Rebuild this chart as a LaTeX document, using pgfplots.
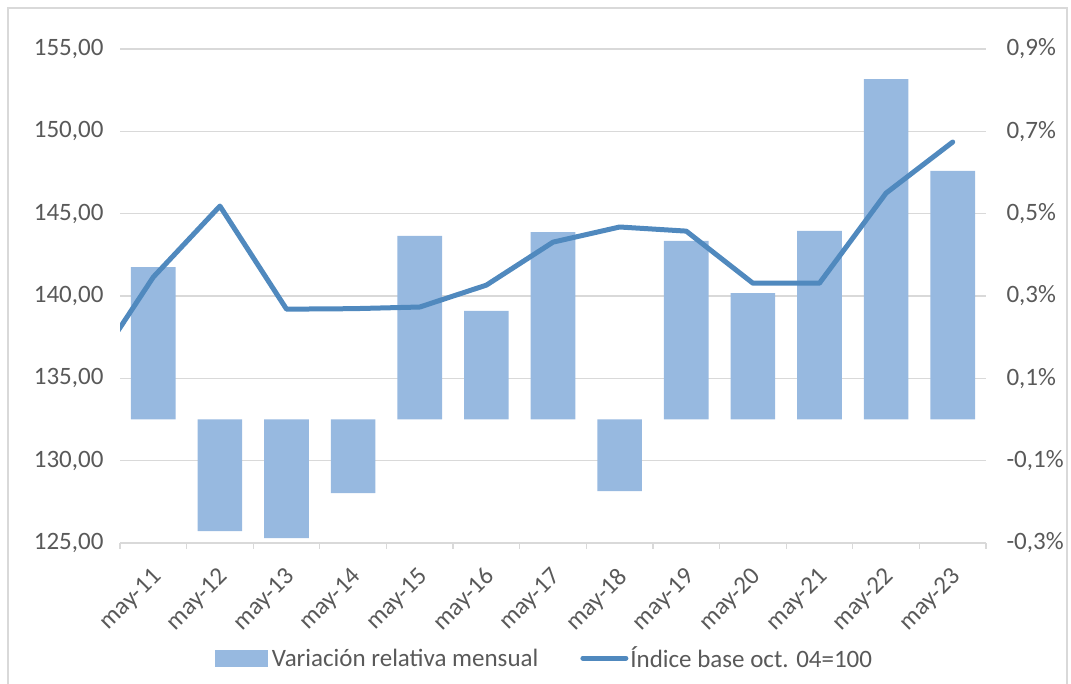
\documentclass[border=0pt]{standalone}
\usepackage{pgfplots}
\pgfplotsset{compat=1.18}
\usepackage{fontspec}
\setmainfont{Carlito}
\definecolor{barc}{RGB}{151,185,224}
\definecolor{linec}{RGB}{80,137,190}
\definecolor{txt}{RGB}{89,89,89}
\definecolor{gridc}{RGB}{217,217,217}
\pgfplotsset{
  base/.style={
    at={(120pt,141pt)}, anchor=south west,
    width=866pt, height=494pt, scale only axis,
    xmin=-0.5, xmax=12.5,
    font=\fontsize{25}{30}\selectfont,
    tick label style={text=txt, font=\fontsize{25}{30}\selectfont},
  },
}
\begin{document}
\begin{tikzpicture}[x=1pt,y=1pt]
\draw[gridc, line width=1.3pt] (8,-10) rectangle (1067,676);
% axis 1: left axis, grid, x axis
\begin{axis}[base,
  ymin=125, ymax=155,
  ytick={125,130,135,140,145,150,155},
  yticklabels={{125,00},{130,00},{135,00},{140,00},{145,00},{150,00},{155,00}},
  ymajorgrids, grid style={gridc, line width=1.3pt},
  axis x line*=bottom, axis y line*=left,
  y axis line style={draw=none},
  x axis line style={gridc, line width=1.3pt, -},
  xtick={-0.5,0.5,1.5,2.5,3.5,4.5,5.5,6.5,7.5,8.5,9.5,10.5,11.5,12.5},
  xticklabels={may-11,may-12,may-13,may-14,may-15,may-16,may-17,may-18,may-19,may-20,may-21,may-22,may-23},
  x tick label as interval,
  tick align=outside, major tick length=6pt,
  xtick style={gridc, line width=1.3pt},
  ytick style={draw=none},
  x tick label style={xshift=7pt, yshift=-22pt, rotate=45, anchor=east},
  y tick label style={xshift=-7pt},
]
\end{axis}
% axis 2: bars, right axis
\begin{axis}[base,
  ymin=-0.3, ymax=0.9,
  axis y line*=right, axis x line=none,
  y axis line style={draw=none},
  ytick={-0.3,-0.1,0.1,0.3,0.5,0.7,0.9},
  yticklabels={{-0,3\%},{-0,1\%},{0,1\%},{0,3\%},{0,5\%},{0,7\%},{0,9\%}},
  ytick style={draw=none},
  y tick label style={xshift=17pt},
]
\addplot[ybar, bar width=0.67, fill=barc, draw=none] coordinates {
(0,0.370) (1,-0.271) (2,-0.288) (3,-0.179) (4,0.446) (5,0.264) (6,0.455)
(7,-0.174) (8,0.434) (9,0.307) (10,0.458) (11,0.827) (12,0.604)
};
\end{axis}
% axis 3: line
\begin{axis}[base,
  ymin=125, ymax=155,
  hide axis,
  legend columns=2,
  legend style={draw=none, fill=none, at={(0.49,-0.233)}, anchor=center,
    font=\fontsize{25}{30}\selectfont, text=txt,
    /tikz/every even column/.append style={column sep=40pt}},
]
\addlegendimage{legend image code/.code={\fill[barc] (0pt,-8pt) rectangle (52pt,8pt); \path (55pt,0pt);}}
\addlegendentry{Variación relativa mensual}
\addplot[linec, line width=5pt, line join=round, line cap=round,
  legend image code/.code={\draw[linec, line width=5pt, line cap=round] (2pt,0pt) -- (45pt,0pt);}]
coordinates {
(-1,135.0) (0,141.15) (1,145.46) (2,139.20) (3,139.23) (4,139.33) (5,140.66)
(6,143.27) (7,144.19) (8,143.94) (9,140.78) (10,140.78) (11,146.25) (12,149.35)
};
\addlegendentry{Índice base oct. 04=100}
\end{axis}
\pgfresetboundingbox
\path (0,0) rectangle (1071,684);
\end{tikzpicture}
\end{document}
